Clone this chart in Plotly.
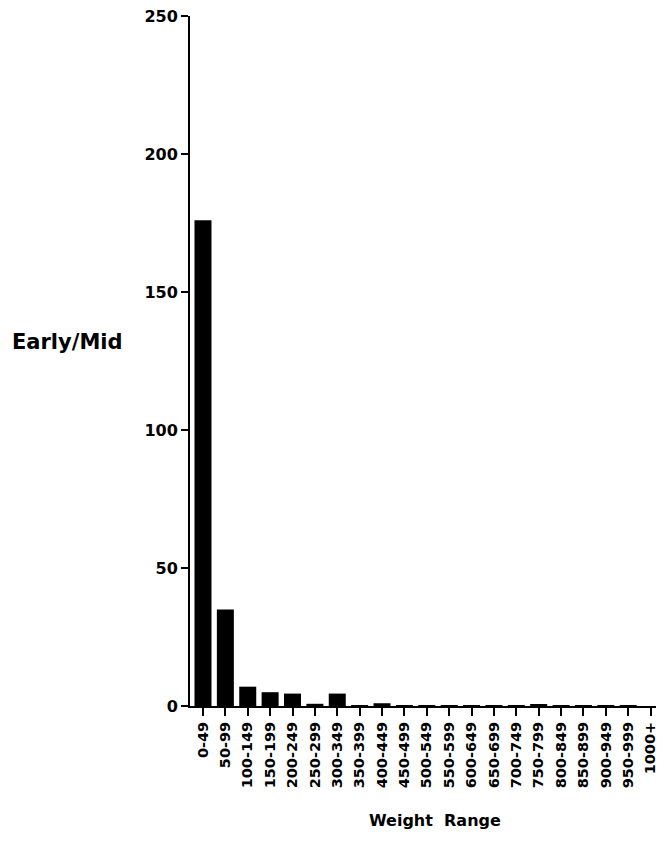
import plotly.graph_objects as go

categories = ["0-49", "50-99", "100-149", "150-199", "200-249", "250-299", "300-349",
              "350-399", "400-449", "450-499", "500-549", "550-599", "600-649", "650-699",
              "700-749", "750-799", "800-849", "850-899", "900-949", "950-999", "1000+"]
counts = [176, 35, 7, 5, 4.5, 0.8, 4.5, 0.3, 1, 0.3, 0.3, 0.3, 0.3, 0.3,
          0.3, 0.5, 0.3, 0.3, 0.3, 0.3, 0]
y_ticks = [0, 50, 100, 150, 200, 250]

FONT = "DejaVu Sans, Liberation Sans, Arial, sans-serif"

fig = go.Figure()
fig.add_trace(go.Bar(
    x=list(range(len(categories))), y=counts,
    marker=dict(color="black", line=dict(width=0)),
    width=0.76,
))

# page has an 8px body margin: plot area spans page x 190..664, y 16..706
fig.update_layout(
    width=656, height=852,
    margin=dict(l=182, r=0, t=8, b=154),
    plot_bgcolor="white", paper_bgcolor="white",
    showlegend=False,
    font=dict(family=FONT, color="black"),
)
fig.update_xaxes(
    range=[-0.58, 20.6],
    tickmode="array", tickvals=list(range(len(categories))), ticktext=categories,
    tickangle=-90,
    tickfont=dict(size=14.5, family=FONT, weight="bold"),
    ticks="outside", ticklen=8, tickwidth=2, tickcolor="black",
    showline=True, linecolor="black", linewidth=2,
    showgrid=False, zeroline=False,
    ticklabeloverflow="allow",
)
fig.update_yaxes(
    range=[0, 250],
    tickmode="array", tickvals=y_ticks,
    tickfont=dict(size=16, family=FONT, weight="bold"),
    ticks="outside", ticklen=7, tickwidth=2, tickcolor="black",
    showline=True, linecolor="black", linewidth=2,
    showgrid=False, zeroline=False,
    ticklabeloverflow="allow",
)

fig.add_annotation(
    text="Early/Mid", xref="paper", yref="paper", x=(10 - 190) / 474, y=(706 - 342) / 690,
    xanchor="left", yanchor="middle", showarrow=False,
    font=dict(size=21, family=FONT, weight="bold", color="black"),
)
fig.add_annotation(
    text="Weight&nbsp;&nbsp;Range", xref="paper", yref="paper", x=(435 - 190) / 474,
    y=-(820 - 706) / 690,
    xanchor="center", yanchor="middle", showarrow=False,
    font=dict(size=16, family=FONT, weight="bold", color="black"),
)

fig.write_html("out.html")
